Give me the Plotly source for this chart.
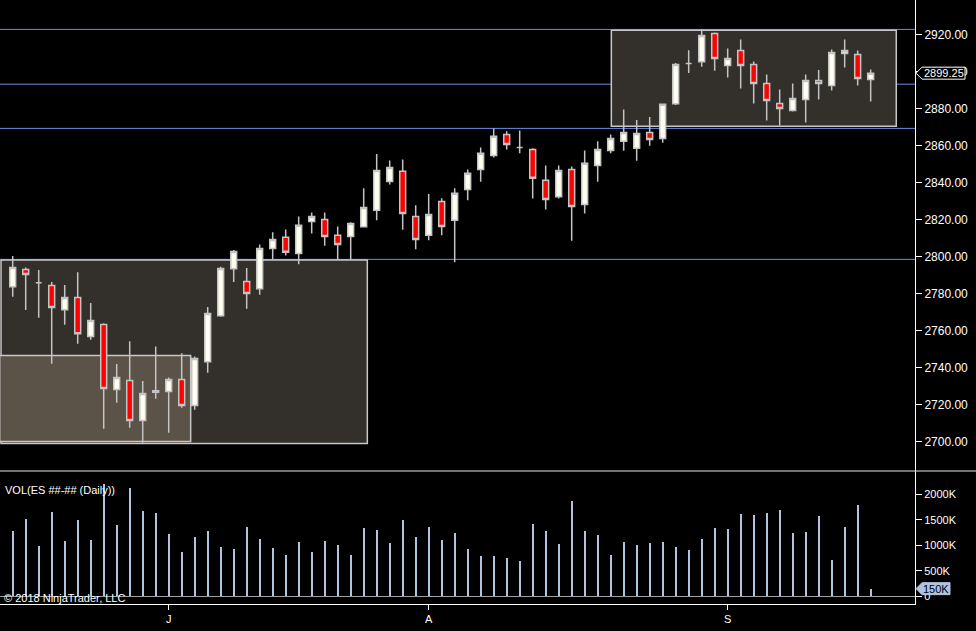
import plotly.graph_objects as go

# --- daily bars (index 0..66), prices ---
opens = [2783.8, 2793.1, 2785.9, 2784.5, 2771.3, 2778.0, 2756.9, 2763.4, 2728.3, 2733.1,
         2711.5, 2726.8, 2727.2, 2733.7, 2719.6, 2743.2, 2768.1, 2793.5, 2786.7, 2782.7,
         2804.5, 2810.5, 2801.8, 2819.1, 2820.2, 2811.6, 2811.0, 2816.2, 2825.1, 2840.7,
         2846.2, 2821.8, 2811.6, 2829.9, 2819.7, 2836.4, 2847.2, 2854.8, 2866.1, 2859.1,
         2858.0, 2841.3, 2832.4, 2847.2, 2828.3, 2849.4, 2857.5, 2862.4, 2858.6, 2867.2,
         2864.0, 2882.7, 2904.5, 2905.4, 2920.7, 2903.4, 2911.5, 2904.0, 2893.7, 2882.9,
         2879.1, 2885.0, 2895.3, 2892.6, 2909.9, 2909.3, 2895.8]
highs = [2800.4, 2794.2, 2792.8, 2786.3, 2784.7, 2791.7, 2775.0, 2764.1, 2742.0, 2754.4,
         2732.8, 2751.5, 2734.8, 2747.9, 2746.1, 2772.8, 2794.6, 2803.6, 2793.9, 2806.7,
         2813.2, 2814.8, 2821.8, 2824.0, 2824.0, 2816.4, 2818.6, 2837.0, 2855.5, 2852.1,
         2852.6, 2827.8, 2833.9, 2831.6, 2837.0, 2847.2, 2859.1, 2869.4, 2867.8, 2868.3,
         2858.6, 2849.4, 2849.4, 2848.8, 2857.5, 2862.4, 2866.1, 2879.6, 2873.9, 2875.5,
         2882.9, 2904.7, 2911.7, 2922.9, 2921.2, 2912.6, 2917.4, 2905.6, 2898.5, 2890.4,
         2893.7, 2898.5, 2900.9, 2912.0, 2917.4, 2911.5, 2901.2]
lows = [2778.4, 2771.2, 2767.0, 2742.2, 2763.2, 2753.0, 2755.1, 2707.0, 2721.1, 2707.6,
        2699.5, 2723.2, 2704.9, 2718.4, 2717.3, 2737.3, 2767.6, 2786.3, 2771.9, 2779.5,
        2798.8, 2800.7, 2795.9, 2812.6, 2806.0, 2798.6, 2798.6, 2815.9, 2819.7, 2839.1,
        2814.6, 2804.0, 2808.9, 2811.6, 2797.0, 2830.5, 2840.6, 2853.7, 2858.0, 2855.9,
        2831.5, 2825.6, 2831.5, 2808.7, 2823.4, 2840.6, 2855.9, 2857.3, 2851.9, 2860.0,
        2861.6, 2882.1, 2899.4, 2902.7, 2900.5, 2896.9, 2891.0, 2882.9, 2873.7, 2871.0,
        2878.5, 2872.6, 2885.0, 2889.9, 2902.3, 2892.6, 2883.9]
closes = [2794.2, 2790.4, 2785.9, 2772.6, 2778.0, 2758.4, 2765.6, 2728.8, 2734.8, 2711.5,
          2726.1, 2727.6, 2733.7, 2719.6, 2745.0, 2769.4, 2793.7, 2802.9, 2780.2, 2804.5,
          2809.4, 2802.4, 2817.0, 2821.8, 2811.0, 2806.7, 2818.0, 2826.7, 2846.7, 2848.3,
          2823.4, 2809.4, 2822.9, 2816.4, 2834.3, 2845.1, 2855.9, 2865.1, 2860.7, 2859.1,
          2842.4, 2831.0, 2846.7, 2827.2, 2850.5, 2858.0, 2864.0, 2867.2, 2866.7, 2863.4,
          2882.4, 2903.9, 2904.5, 2919.6, 2907.2, 2907.2, 2903.4, 2893.7, 2884.5, 2880.2,
          2885.6, 2895.3, 2893.7, 2910.4, 2911.5, 2896.4, 2899.25]
volumes_k = [1281, 1516, 987, 1654, 1085, 1497, 1105, 2203, 1399, 2124,
             1673, 1634, 1222, 869, 1163, 1281, 967, 928, 1359, 1124,
             948, 810, 1065, 869, 1085, 1007, 810, 1340, 1301, 1046,
             1497, 1163, 1359, 1105, 1242, 928, 791, 791, 752, 693,
             1418, 1281, 1026, 1869, 1281, 1203, 810, 1065, 1007, 1046,
             1065, 967, 908, 1124, 1340, 1320, 1614, 1595, 1634, 1693,
             1242, 1261, 1575, 712, 1359, 1791, 150]

# month ticks (bar index of first bar shown for the month)
month_ticks = [12, 32, 55]
month_labels = ["J", "A", "S"]

price_ticks = list(range(2700, 2921, 20))
vol_ticks = [0, 500, 1000, 1500, 2000]
vol_tick_labels = ["0", "500K", "1000K", "1500K", "2000K"]

# drawn horizontal levels and zones (bar index span, price span)
levels = [2922.9, 2893.3, 2869.4, 2798.6]
zones = [
    dict(x0=-0.9, x1=27.28, y0=2699.1, y1=2798.2, fill="#332f2a"),
    dict(x0=-1.0, x1=13.69, y0=2700.2, y1=2746.7, fill="#5b5248"),
    dict(x0=46.05, x1=67.97, y0=2870.5, y1=2922.4, fill="#332f2a"),
]

idx = list(range(len(closes)))
last_close = closes[-1]
last_vol = volumes_k[-1]

W, H = 976, 631
M_R, M_B = 61, 27
plot_w = W - M_R
plot_h = H - M_B
split_px = 471  # y pixel of the panel divider
price_dom0 = (plot_h - split_px) / plot_h

price_range = [2684.2, 2938.8]
vol_range = [-151, 2457]
px_per_pt = split_px / (price_range[1] - price_range[0])
px_per_k = (plot_h - split_px) / (vol_range[1] - vol_range[0])

GRAY = "#c4c4c4"
FONT = "Liberation Sans, Arial, sans-serif"

fig = go.Figure()

fig.add_trace(go.Candlestick(
    x=idx, open=opens, high=highs, low=lows, close=closes,
    increasing=dict(fillcolor="#fffff0", line=dict(color=GRAY, width=1.5)),
    decreasing=dict(fillcolor="#ff0000", line=dict(color=GRAY, width=1.5)),
    whiskerwidth=0, xaxis="x", yaxis="y", hoverinfo="skip", showlegend=False,
))

fig.add_trace(go.Bar(
    x=idx, y=volumes_k, width=0.16,
    marker=dict(color="#b0c4de", line=dict(width=0)),
    xaxis="x", yaxis="y2", hoverinfo="skip", showlegend=False,
))

shapes = []
for z in zones:
    shapes.append(dict(type="rect", xref="x", yref="y", x0=z["x0"], x1=z["x1"],
                       y0=z["y0"], y1=z["y1"], fillcolor=z["fill"],
                       line=dict(color="#c8c8c8", width=1.5), layer="below"))
for lv in levels:
    shapes.append(dict(type="line", xref="paper", yref="y", x0=0, x1=1, y0=lv, y1=lv,
                       line=dict(color="#6a8ee8", width=1), layer="below"))
# panel divider across the whole width
shapes.append(dict(type="line", xref="paper", yref="paper", x0=0, x1=W / plot_w,
                   y0=price_dom0, y1=price_dom0, line=dict(color="#e6e6e6", width=1)))


# value tag (pentagon pointing at the axis)
def tag_path(y_c, half, unit_per_px, length):
    x_tip = 1 + 1 / plot_w
    x_sh = 1 + 7 / plot_w
    x_end = 1 + length / plot_w
    h = half * unit_per_px
    return (f"M {x_tip},{y_c} L {x_sh},{y_c + h} L {x_end},{y_c + h} "
            f"L {x_end},{y_c - h} L {x_sh},{y_c - h} Z")


shapes.append(dict(type="path", xref="paper", yref="y",
                   path=tag_path(last_close, 6, 1 / px_per_pt, 50),
                   fillcolor="#000000", line=dict(color="#ffffff", width=1)))
shapes.append(dict(type="path", xref="paper", yref="y2",
                   path=tag_path(last_vol, 6, 1 / px_per_k, 35),
                   fillcolor="#b0c4de", line=dict(color="#b0c4de", width=1)))

annotations = [
    dict(text=f"{last_close:.2f}", xref="paper", yref="y", x=1 + 28.5 / plot_w, y=last_close,
         xanchor="center", yanchor="middle", showarrow=False,
         font=dict(family=FONT, size=11, color="#ffffff")),
    dict(text=f"{last_vol}K", xref="paper", yref="y2", x=1 + 21 / plot_w, y=last_vol,
         xanchor="center", yanchor="middle", showarrow=False,
         font=dict(family=FONT, size=11, color="#000000")),
    dict(text="VOL(ES ##-## (Daily))", xref="paper", yref="paper", x=3 / plot_w,
         y=(plot_h - 490) / plot_h, xanchor="left", yanchor="middle", showarrow=False,
         font=dict(family=FONT, size=11, color="#ffffff")),
    dict(text="© 2018 NinjaTrader, LLC", xref="paper", yref="paper", x=2 / plot_w,
         y=(plot_h - 598) / plot_h, xanchor="left", yanchor="middle", showarrow=False,
         font=dict(family=FONT, size=11, color="#ffffff")),
]

fig.update_layout(
    width=W, height=H,
    margin=dict(l=0, r=M_R, t=0, b=M_B),
    paper_bgcolor="#000000", plot_bgcolor="#000000",
    font=dict(family=FONT, size=11, color="#ffffff"),
    boxgap=0.35,
    bargap=0,
    showlegend=False,
    xaxis=dict(
        domain=[0, 1], range=[-0.977, 69.41], anchor="y2",
        rangeslider=dict(visible=False),
        showgrid=False, zeroline=False,
        showline=True, linecolor="#ffffff", linewidth=1,
        ticks="outside", ticklen=5, tickcolor="#ffffff",
        tickvals=month_ticks, ticktext=month_labels,
        tickfont=dict(family=FONT, size=11, color="#ffffff"),
    ),
    yaxis=dict(
        domain=[price_dom0, 1], range=price_range, side="right", anchor="x",
        showgrid=False, zeroline=False,
        showline=True, linecolor="#ffffff", linewidth=1,
        ticks="outside", ticklen=6, tickcolor="#ffffff",
        tickvals=price_ticks, tickformat=".2f",
        tickfont=dict(family=FONT, size=12, color="#ffffff"),
    ),
    yaxis2=dict(
        domain=[0, price_dom0], range=vol_range, side="right", anchor="x",
        showgrid=False,
        zeroline=True, zerolinecolor="#a0a0a0", zerolinewidth=1,
        showline=True, linecolor="#ffffff", linewidth=1,
        ticks="outside", ticklen=6, tickcolor="#ffffff",
        tickvals=vol_ticks, ticktext=vol_tick_labels,
        tickfont=dict(family=FONT, size=11, color="#ffffff"),
    ),
    shapes=shapes,
    annotations=annotations,
)

fig.write_html("out.html", config=dict(displayModeBar=False),
               post_script="document.body.style.margin='0';")
